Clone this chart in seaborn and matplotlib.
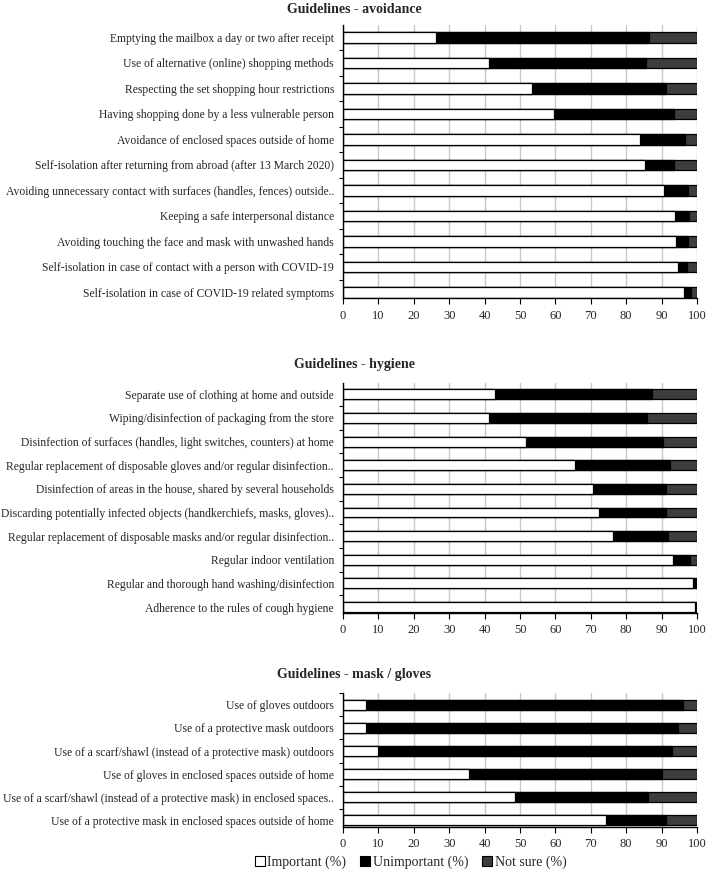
import matplotlib
matplotlib.use("Agg")
import matplotlib.pyplot as plt
from matplotlib.patches import Patch
from matplotlib.ticker import FixedLocator
import seaborn as sns
import pandas as pd

sns.set_style("white")
plt.rcParams['font.family'] = ['Liberation Serif', 'DejaVu Serif']

# --- data (percent) ---
avoid_labels = [
    "Emptying the mailbox a day or two after receipt",
    "Use of alternative (online) shopping methods",
    "Respecting the set shopping hour restrictions",
    "Having shopping done by a less vulnerable person",
    "Avoidance of enclosed spaces outside of home",
    "Self-isolation after returning from abroad (after 13 March 2020)",
    "Avoiding unnecessary contact with surfaces (handles, fences) outside..",
    "Keeping a safe interpersonal distance",
    "Avoiding touching the face and mask with unwashed hands",
    "Self-isolation in case of contact with a person with COVID-19",
    "Self-isolation in case of COVID-19 related symptoms",
]
avoid_imp = [26.3, 41.3, 53.3, 59.5, 84.0, 85.2, 90.6, 93.8, 94.0, 94.5, 96.3]
avoid_unimp = [60.0, 44.4, 37.8, 34.0, 12.5, 8.3, 6.9, 3.9, 3.5, 2.8, 2.1]
avoid_ns = [13.7, 14.3, 8.9, 6.5, 3.5, 6.5, 2.5, 2.3, 2.5, 2.7, 1.6]

hyg_labels = [
    "Separate use of clothing at home and outside",
    "Wiping/disinfection of packaging from the store",
    "Disinfection of surfaces (handles, light switches, counters) at home",
    "Regular replacement of disposable gloves and/or regular disinfection..",
    "Disinfection of areas in the house, shared by several households",
    "Discarding potentially infected objects (handkerchiefs, masks, gloves)..",
    "Regular replacement of disposable masks and/or regular disinfection..",
    "Regular indoor ventilation",
    "Regular and thorough hand washing/disinfection",
    "Adherence to the rules of cough hygiene",
]
hyg_imp = [42.9, 41.3, 51.7, 65.5, 70.7, 72.3, 76.4, 93.2, 98.9, 99.4]
hyg_unimp = [44.4, 44.6, 38.6, 26.8, 20.6, 19.0, 15.4, 4.8, 0.9, 0.6]
hyg_ns = [12.7, 14.1, 9.7, 7.7, 8.7, 8.7, 8.2, 2.0, 0.2, 0.0]

mask_labels = [
    "Use of gloves outdoors",
    "Use of a protective mask outdoors",
    "Use of a scarf/shawl (instead of a protective mask) outdoors",
    "Use of gloves in enclosed spaces outside of home",
    "Use of a scarf/shawl (instead of a protective mask) in enclosed spaces..",
    "Use of a protective mask in enclosed spaces outside of home",
]
mask_imp = [6.6, 6.6, 9.8, 35.7, 48.7, 74.4]
mask_unimp = [89.3, 87.9, 83.0, 54.3, 37.4, 16.9]
mask_ns = [4.1, 5.5, 7.2, 10.0, 13.9, 8.7]

legend_names = ["Important (%)", "Unimportant (%)", "Not sure (%)"]
colors = ["white", "black", "#3d3d3d"]

panels = [
    ("Guidelines - avoidance", avoid_labels, avoid_imp, avoid_unimp, avoid_ns,
     [0.4845, 0.6585, 0.5, 0.3129], 0.9886, (-0.49, 0.235)),
    ("Guidelines - hygiene", hyg_labels, hyg_imp, hyg_unimp, hyg_ns,
     [0.4845, 0.2990, 0.5, 0.2628], 0.5835, (-0.48, 0.24)),
    ("Guidelines - mask / gloves", mask_labels, mask_imp, mask_unimp, mask_ns,
     [0.4845, 0.0538, 0.5, 0.1533], 0.2288, (-0.52, 0.30)),
]

fig = plt.figure(figsize=(7.08, 8.74), dpi=100)

for title, labels, imp, unimp, ns, pos, ty, (ytop, ybot) in panels:
    ax = fig.add_axes(pos)
    df = pd.DataFrame({"label": labels, "imp": imp, "unimp": unimp, "ns": ns})
    df["c2"] = df["imp"] + df["unimp"]
    df["c3"] = df["c2"] + df["ns"]
    # stacked: draw cumulative totals back to front
    for col, c in zip(["c3", "c2", "imp"], colors[::-1]):
        sns.barplot(data=df, x=col, y="label", orient="h", color=c,
                    saturation=1, width=0.42, edgecolor="black",
                    linewidth=0.9, errorbar=None, ax=ax)
    n = len(labels)
    ax.set_xlim(0, 100)
    ax.set_ylim(n - 1 + ybot, ytop)
    ax.set_xticks(range(0, 101, 10))
    ax.set_xlabel("")
    ax.set_ylabel("")
    ax.xaxis.grid(True, color="#c8c8c8", linewidth=1)
    ax.yaxis.grid(False)
    ax.set_axisbelow(True)
    for s in ["top", "right"]:
        ax.spines[s].set_visible(False)
    for s in ["left", "bottom"]:
        ax.spines[s].set_color("black")
        ax.spines[s].set_linewidth(1)
    ax.yaxis.set_minor_locator(FixedLocator([i + 0.5 for i in range(-1, n)]))
    ax.tick_params(axis="y", which="major", length=0, pad=6.5, labelsize=8.4)
    ax.tick_params(axis="y", which="minor", left=True, length=3, width=0.8,
                   color="black", direction="out")
    ax.tick_params(axis="x", bottom=True, length=4, width=0.8, color="black",
                   direction="out", pad=4, labelsize=9)
    fig.text(0.5, ty, title, ha="center", va="center", fontsize=10,
             fontweight="bold")

handles = [Patch(facecolor=c, edgecolor="black", linewidth=0.8) for c in colors]
fig.legend(handles, legend_names, loc="center", bbox_to_anchor=(0.58, 0.0137),
           ncol=3, frameon=False, fontsize=10, handlelength=0.7,
           handleheight=0.7, handletextpad=0.2, columnspacing=1.0)

fig.savefig("out.png", dpi=100)
